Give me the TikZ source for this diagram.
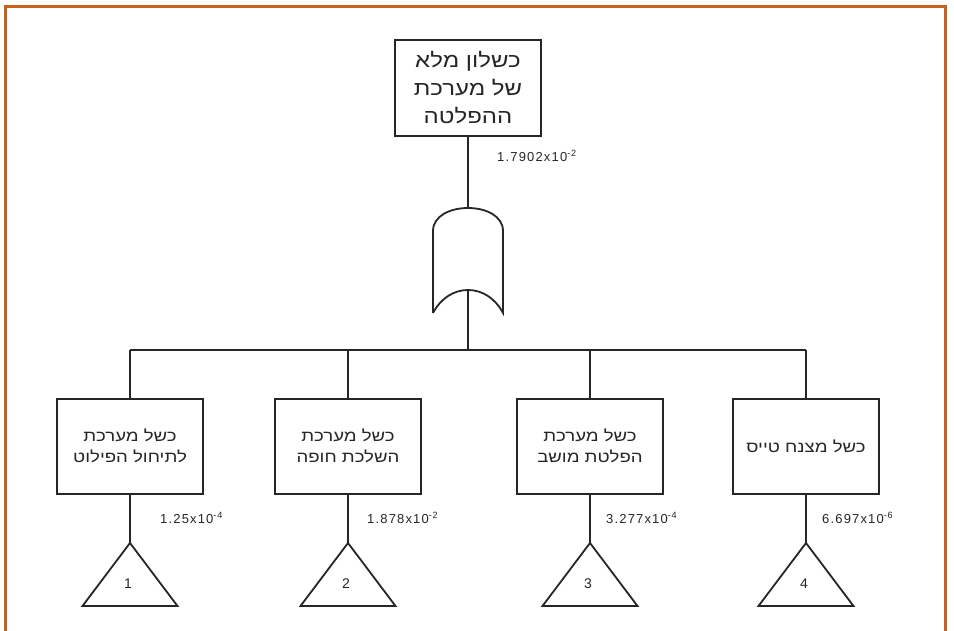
\documentclass[tikz,border=0pt]{standalone}
\usepackage{fontspec}
\usetikzlibrary{calc}
\setmainfont{Liberation Sans}
\newfontfamily\hebfont[Script=Hebrew,FakeStretch=1.2]{Liberation Sans}
\newfontfamily\numfont[LetterSpace=9]{Liberation Sans}
\TeXXeTstate=1
\newcommand{\hb}[1]{{\hebfont\beginR #1\endR}}
\definecolor{frameorange}{HTML}{C8601F}
\definecolor{ink}{HTML}{262626}
\tikzset{
  evbox/.style={draw=ink, line width=2pt, rectangle, inner sep=0pt, align=center, fill=white, text=ink},
  conn/.style={draw=ink, line width=2pt},
  prob/.style={anchor=west, inner sep=0pt, font=\numfont\fontsize{13}{14}\selectfont, text=ink},
  tri/.style={draw=ink, line width=1.8pt, line join=miter},
}
\begin{document}
\begin{tikzpicture}[x=1pt,y=-1pt]
\useasboundingbox (0,0) rectangle (954,631);
\fill[white] (0,0) rectangle (954,631);
% frame
\draw[frameorange, line width=3pt] (5.5,631) -- (5.5,6.5) -- (945.5,6.5) -- (945.5,631);
% top event
\node[evbox, minimum width=146pt, minimum height=96pt, font=\fontsize{20}{28}\selectfont] (top) at (468,88)
  {\hb{כשלון מלא}\\\hb{של מערכת}\\\hb{ההפלטה}};
\node[prob] (ptop) at (497,156) {1.7902x10\textsuperscript{-2}};
% OR gate
\coordinate (gtop) at (468,208);
\coordinate (gbot) at (468,290);
\draw[ink, line width=1.8pt] (433,313) -- (433,231)
  .. controls (433,216) and (450,208) .. (gtop)
  .. controls (486,208) and (503,216) .. (503,231) -- (503,313)
  .. controls (495,298) and (482,290) .. (gbot)
  .. controls (454,290) and (441,298) .. (433,313);
\draw[conn] (top.south) -- (gtop);
% bar
\coordinate (bm) at (468,350);
\coordinate (bl) at (130,350);
\coordinate (br) at (806,350);
\draw[conn] (gbot) -- (bm);
\draw[conn] (bl) -- (br);
% basic boxes
\tikzset{lowbox/.style={evbox, minimum width=146pt, minimum height=95pt, font=\fontsize{15.5}{21.5}\selectfont}}
\node[lowbox] (b1) at (130,446) {\hb{כשל מערכת}\\\hb{לתיחול הפילוט}};
\node[lowbox] (b2) at (348,446) {\hb{כשל מערכת}\\\hb{השלכת חופה}};
\node[lowbox] (b3) at (590,446) {\hb{כשל מערכת}\\\hb{הפלטת מושב}};
\node[lowbox] (b4) at (806,446) {\hb{כשל מצנח טייס}};
\foreach \b in {b1,b2,b3,b4}{
  \draw[conn] (\b.north) -- (\b.north |- bm);
}
% triangles
\coordinate (t1) at (130,543);
\coordinate (t2) at (348,543);
\coordinate (t3) at (590,543);
\coordinate (t4) at (806,543);
\foreach \b/\t/\n in {b1/t1/1,b2/t2/2,b3/t3/3,b4/t4/4}{
  \draw[conn] (\b.south) -- (\t);
  \draw[tri] (\t) -- ++(-47.5,63) -- ++(95,0) -- cycle;
  \node[font=\fontsize{14}{15}\selectfont, text=ink] (n\n) at ($(\t)+(-2,41)$) {\n};
}
\node[prob] (p1) at (160,518) {1.25x10\textsuperscript{-4}};
\node[prob] (p2) at (367,518) {1.878x10\textsuperscript{-2}};
\node[prob] (p3) at (606,518) {3.277x10\textsuperscript{-4}};
\node[prob] (p4) at (822,518) {6.697x10\textsuperscript{-6}};
\end{tikzpicture}
\end{document}
